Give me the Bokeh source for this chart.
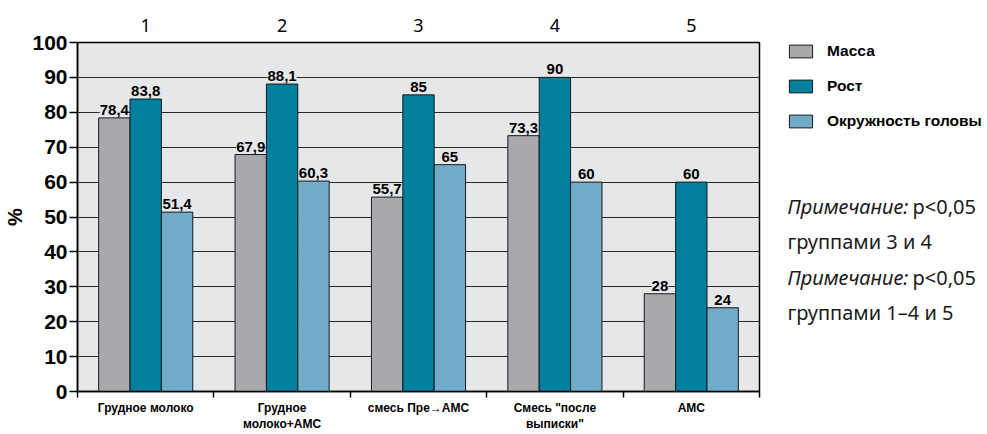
from bokeh.plotting import figure
from bokeh.layouts import row
from bokeh.models import (Range1d, FixedTicker, LinearAxis, ColumnDataSource, LabelSet,
                          Label, Legend, LegendItem)
from bokeh.core.properties import value
from bokeh.transform import dodge
from bokeh.embed import file_html
from bokeh.resources import INLINE

# ---------------- data ----------------
groups = ["Грудное молоко", "Грудное\nмолоко+АМС", "смесь Пре→АМС",
          "Смесь \"после\nвыписки\"", "АМС"]
group_nums = ["1", "2", "3", "4", "5"]
series = ["Масса", "Рост", "Окружность головы"]
massa = [78.4, 67.9, 55.7, 73.3, 28]
rost = [83.8, 88.1, 85, 90, 60]
head = [51.4, 60.3, 65, 60, 24]
y_ticks = [0, 10, 20, 30, 40, 50, 60, 70, 80, 90, 100]
note_italic = ["Примечание:", "", "Примечание:", ""]
note_regular = ["p<0,05", "группами 3 и 4", "p<0,05", "группами 1–4 и 5"]

colors = ["#a7a9ac", "#007f9f", "#72abc7"]
BG = "#e6e7e9"


def fmt(v):
    return ("%g" % v).replace(".", ",")


xc = [i + 0.5 for i in range(len(groups))]
src = ColumnDataSource(dict(
    xc=xc, massa=massa, rost=rost, head=head,
    massa_t=[fmt(v) for v in massa],
    rost_t=[fmt(v) for v in rost],
    head_t=[fmt(v) for v in head],
))

H = 434
W1 = 761
W2 = 987 - W1
L, R, T, B = 77, 2, 42, 42

p = figure(width=W1, height=H, output_backend="svg", toolbar_location=None,
           x_range=Range1d(0, len(groups)), y_range=Range1d(0, 100),
           min_border_left=L, min_border_right=R, min_border_top=T, min_border_bottom=B)
p.background_fill_color = BG
p.border_fill_color = "white"
p.outline_line_color = "black"
p.outline_line_width = 1.5

# grid
p.xgrid.grid_line_color = None
p.ygrid.ticker = FixedTicker(ticks=y_ticks)
p.ygrid.grid_line_color = "#2a2a2a"
p.ygrid.grid_line_width = 1

# y axis
ya = p.yaxis[0]
ya.ticker = FixedTicker(ticks=y_ticks)
ya.axis_label = "%"
ya.axis_label_text_font = "Liberation Sans"
ya.axis_label_text_font_style = "bold"
ya.axis_label_text_font_size = "20px"
ya.axis_label_text_color = "black"
ya.axis_label_standoff = 3
ya.major_label_text_font = "Liberation Sans"
ya.major_label_text_font_style = "bold"
ya.major_label_text_font_size = "21px"
ya.major_label_text_color = "black"
ya.major_label_standoff = 2
ya.major_tick_out = 8
ya.major_tick_in = 0
ya.minor_tick_line_color = None
ya.axis_line_color = "black"
ya.axis_line_width = 1.5
ya.major_tick_line_color = "black"
ya.major_tick_line_width = 1.5

# x axis (bottom): labels at group centres, ticks at boundaries
xa = p.xaxis[0]
xa.ticker = FixedTicker(ticks=xc, minor_ticks=list(range(len(groups) + 1)))
xa.major_label_overrides = {x: g for x, g in zip(xc, groups)}
xa.major_tick_line_color = None
xa.major_tick_out = 0
xa.major_tick_in = 0
xa.minor_tick_line_color = "black"
xa.minor_tick_line_width = 1.5
xa.minor_tick_out = 6
xa.minor_tick_in = 0
xa.axis_line_color = "black"
xa.axis_line_width = 1.5
xa.major_label_text_font = "Liberation Sans"
xa.major_label_text_font_style = "bold"
xa.major_label_text_font_size = "12px"
xa.major_label_text_line_height = 1.2
xa.major_label_text_color = "black"
xa.major_label_standoff = 3

# top axis with group numbers
ta = LinearAxis(ticker=FixedTicker(ticks=xc),
                major_label_overrides={x: n for x, n in zip(xc, group_nums)},
                axis_line_color=None, major_tick_line_color=None, minor_tick_line_color=None,
                major_tick_out=0, major_tick_in=0,
                major_label_text_font="Noto Sans", major_label_text_font_size="18px",
                major_label_text_color="black", major_label_standoff=11)
p.add_layout(ta, "above")

# bars
w = 0.23
offs = [-w, 0.0, w]
cols = ["massa", "rost", "head"]
for off, c, col in zip(offs, cols, colors):
    p.vbar(x=dodge("xc", off), top=c, width=w, source=src,
           fill_color=col, line_color="#1a1a1a", line_width=1)
    ls = LabelSet(x=dodge("xc", off), y=c, text=c + "_t", source=src,
                  text_align="center", text_baseline="bottom", y_offset=3,
                  text_font=value("Liberation Sans"), text_font_style="bold",
                  text_font_size="15px", text_color="black",
                  background_fill_color=BG)
    p.add_layout(ls)

# ---------------- right side panel: legend + notes ----------------
LB, TB = 25, 42
FW2, FH2 = W2 - LB, H - TB
p2 = figure(frame_width=FW2, frame_height=FH2, output_backend="svg", toolbar_location=None,
            x_range=Range1d(0, FW2), y_range=Range1d(0, FH2),
            x_axis_type=None, y_axis_type=None,
            min_border_left=LB, min_border_top=TB, min_border_right=0, min_border_bottom=0)
p2.outline_line_color = None
p2.background_fill_color = "white"
p2.border_fill_color = "white"
p2.grid.grid_line_color = None

leg_r = []
for c, col in zip(cols, colors):
    leg_r.append(p2.vbar(x="xc", top=c, width=w, source=src, visible=False,
                         fill_color=col, line_color="#1a1a1a", line_width=1))

leg = Legend(items=[LegendItem(label=s, renderers=[r]) for s, r in zip(series, leg_r)],
             location="top_left", orientation="vertical",
             glyph_width=29, glyph_height=16, label_height=16, spacing=17,
             padding=0, margin=0, border_line_color=None, background_fill_alpha=0,
             inactive_fill_alpha=0,
             label_text_font="Liberation Sans", label_text_font_style="bold",
             label_text_font_size="15.5px", label_text_color="black", label_standoff=12)
p2.add_layout(leg)

# note lines: vertical centres (px from top of the whole picture)
y_lines = [206, 241, 277, 312]
for it, rg, yy in zip(note_italic, note_regular, y_lines):
    xr = 1
    if it:
        p2.add_layout(Label(x=1, y=H - yy, text=it,
                            text_font="Noto Sans", text_font_style="italic",
                            text_font_size="20px", text_color="#1a1a1a",
                            text_baseline="middle", text_align="left"))
        xr = 1 + 125
    p2.add_layout(Label(x=xr, y=H - yy, text=rg,
                        text_font="Noto Sans", text_font_size="20px", text_color="#1a1a1a",
                        text_baseline="middle", text_align="left"))

layout = row(p, p2, spacing=0)
open("out.html", "w").write(file_html(layout, INLINE))
